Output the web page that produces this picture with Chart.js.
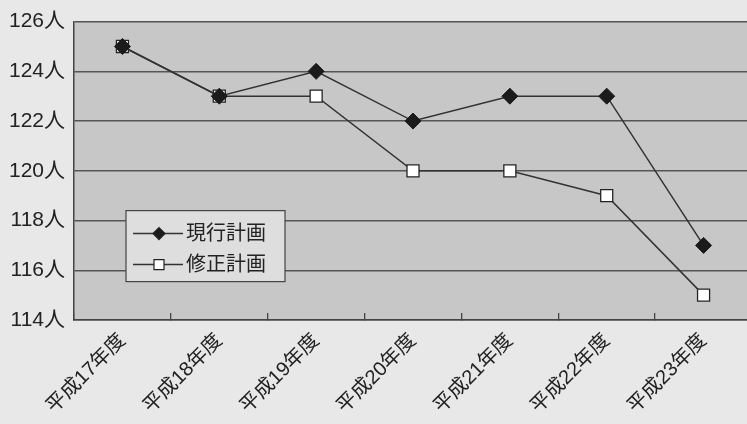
<!DOCTYPE html>
<html>
<head>
<meta charset="utf-8">
<script src="https://cdn.jsdelivr.net/npm/chart.js@4/dist/chart.umd.min.js"></script>
<style>
  html, body { margin: 0; padding: 0; overflow: hidden; background: #e8e8e8; }
  #wrap { position: relative; width: 762px; height: 424px; }
</style>
</head>
<body>
<div id="wrap"><canvas id="grafica"></canvas></div>
<script>
const nendo = ["平成17年度", "平成18年度", "平成19年度", "平成20年度", "平成21年度", "平成22年度", "平成23年度"];
const genkou = [125, 123, 124, 122, 123, 123, 117];
const shusei = [125, 123, 123, 120, 120, 119, 115];
const ejeY = { min: 114, max: 126, paso: 2, unidad: "人" };

const fuente = "'Liberation Sans', 'Noto Sans CJK JP', sans-serif";

// fondo gris del area de trazado
const fondoArea = {
  id: "fondoArea",
  beforeDraw(chart) {
    const { ctx, chartArea: a } = chart;
    ctx.save();
    ctx.fillStyle = "#c7c7c7";
    ctx.fillRect(a.left, a.top, a.right - a.left, a.bottom - a.top);
    ctx.restore();
  }
};

// leyenda dentro del grafico
const leyenda = {
  id: "leyenda",
  afterDraw(chart) {
    const { ctx, chartArea: a } = chart;
    const x = a.left + 52, y = a.top + 189, w = 159, h = 71;
    ctx.save();
    ctx.fillStyle = "#dedede";
    ctx.fillRect(x, y, w, h);
    ctx.strokeStyle = "#444";
    ctx.lineWidth = 1.2;
    ctx.strokeRect(x, y, w, h);
    chart.data.datasets.forEach((ds, i) => {
      const cy = y + 23 + i * 31;
      ctx.strokeStyle = "#333";
      ctx.lineWidth = 1.5;
      ctx.beginPath();
      ctx.moveTo(x + 7, cy);
      ctx.lineTo(x + 57, cy);
      ctx.stroke();
      ctx.fillStyle = ds.pointBackgroundColor;
      ctx.strokeStyle = "#222";
      ctx.lineWidth = 1.2;
      ctx.beginPath();
      if (ds.pointStyle === "rect") {
        ctx.rect(x + 28, cy - 5, 10, 10);
      } else {
        ctx.moveTo(x + 33, cy - 6); ctx.lineTo(x + 39, cy); ctx.lineTo(x + 33, cy + 6); ctx.lineTo(x + 27, cy);
        ctx.closePath();
      }
      ctx.fill(); ctx.stroke();
      ctx.fillStyle = "#222";
      ctx.font = "20px " + fuente;
      ctx.textBaseline = "middle";
      ctx.fillText(ds.label, x + 60, cy + 1);
    });
    ctx.restore();
  }
};

new Chart(document.getElementById("grafica"), {
  type: "line",
  data: {
    labels: nendo,
    datasets: [
      {
        label: "現行計画",
        data: genkou,
        borderColor: "#333",
        borderWidth: 1.5,
        pointStyle: "rectRot",
        pointRadius: 8,
        pointBackgroundColor: "#1b1b1b",
        pointBorderColor: "#1b1b1b",
        pointBorderWidth: 1,
        order: 0
      },
      {
        label: "修正計画",
        data: shusei,
        borderColor: "#333",
        borderWidth: 1.5,
        pointStyle: "rect",
        pointRadius: 8.5,
        pointBackgroundColor: "#ffffff",
        pointBorderColor: "#222",
        pointBorderWidth: 1.3,
        order: 1
      }
    ]
  },
  options: {
    responsive: true,
    maintainAspectRatio: false,
    animation: false,
    layout: { padding: { top: 18, right: 10, left: 0, bottom: 0 } },
    plugins: {
      legend: { display: false },
      tooltip: { enabled: false }
    },
    scales: {
      x: {
        offset: true,
        afterFit: s => { s.height = 104; },
        grid: {
          offset: true,
          drawOnChartArea: false,
          drawTicks: true,
          tickLength: -7,
          color: "#444",
          lineWidth: 1.3
        },
        border: { display: true, color: "#444", width: 1.5 },
        ticks: {
          minRotation: 45,
          maxRotation: 45,
          padding: 16,
          color: "#222",
          font: { family: fuente, size: 20 }
        }
      },
      y: {
        min: ejeY.min,
        max: ejeY.max,
        afterFit: s => { s.width = 74; },
        grid: { color: "#555", lineWidth: 1.5, drawTicks: false },
        border: { display: true, color: "#444", width: 1.5 },
        ticks: {
          stepSize: ejeY.paso,
          padding: 9,
          color: "#222",
          font: { family: fuente, size: 21 },
          callback: v => v + ejeY.unidad
        }
      }
    }
  },
  plugins: [fondoArea, leyenda]
});
</script>
</body>
</html>
